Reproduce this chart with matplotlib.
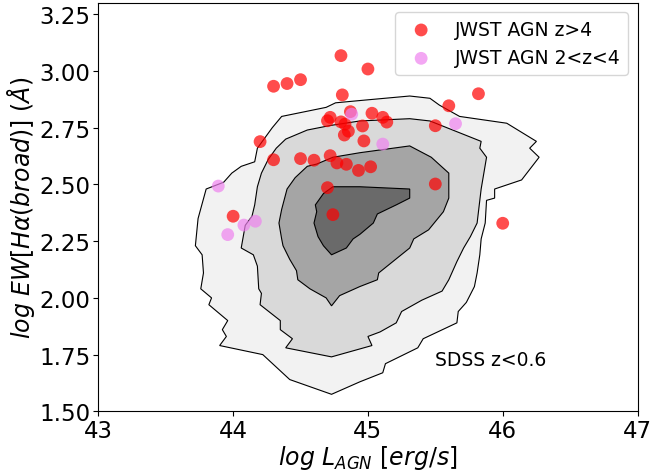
import matplotlib
matplotlib.use("Agg")
import matplotlib.pyplot as plt

# JWST AGN z>4
red_x = [44.80, 45.00, 44.30, 44.40, 44.50, 44.81, 45.82, 45.60, 45.50, 45.50,
         46.00, 44.87, 44.72, 44.70, 44.80, 44.83, 45.03, 45.11, 45.14, 44.96,
         44.855, 44.825, 44.97, 44.20, 44.30, 44.50, 44.60, 44.72, 44.77, 44.84,
         44.93, 45.02, 44.70, 44.74, 44.00]
red_y = [3.068, 3.009, 2.933, 2.945, 2.962, 2.895, 2.900, 2.847, 2.759, 2.502,
         2.329, 2.821, 2.796, 2.781, 2.776, 2.766, 2.814, 2.796, 2.775, 2.758,
         2.735, 2.718, 2.692, 2.689, 2.609, 2.614, 2.607, 2.627, 2.595, 2.589,
         2.562, 2.578, 2.486, 2.367, 2.360]

# JWST AGN 2<z<4
vio_x = [44.88, 45.65, 45.11, 43.89, 44.08, 44.165, 43.96]
vio_y = [2.810, 2.768, 2.678, 2.493, 2.321, 2.338, 2.279]

# SDSS z<0.6 density contours (outer -> inner)
c1_x = [43.72, 43.74, 43.80, 43.93, 43.99, 44.06, 44.16, 44.18, 44.29, 44.36,
        44.69, 44.76, 44.94, 45.31, 45.46, 45.53, 45.68, 46.03, 46.25, 46.20,
        46.27, 46.14, 45.94, 45.94, 45.88, 45.87, 45.84, 45.83, 45.81, 45.79,
        45.73, 45.67, 45.66, 45.41, 45.37, 45.13, 45.11, 44.94, 44.73, 44.42,
        44.22, 43.90, 43.95, 43.92, 43.96, 43.82, 43.84, 43.76, 43.78, 43.77]
c1_y = [2.23, 2.35, 2.48, 2.51, 2.55, 2.58, 2.60, 2.66, 2.75, 2.80,
        2.84, 2.86, 2.87, 2.89, 2.88, 2.85, 2.80, 2.77, 2.69, 2.66,
        2.62, 2.52, 2.48, 2.44, 2.43, 2.33, 2.26, 2.19, 2.11, 2.05,
        1.98, 1.94, 1.89, 1.82, 1.78, 1.71, 1.67, 1.63, 1.575, 1.64,
        1.75, 1.79, 1.83, 1.86, 1.90, 1.97, 2.00, 2.04, 2.11, 2.19]

c2_x = [44.06, 44.09, 44.14, 44.16, 44.18, 44.21, 44.26, 44.32, 44.39, 44.47,
        44.55, 44.72, 44.94, 45.31, 45.46, 45.84, 45.83, 45.88, 45.84, 45.81,
        45.76, 45.71, 45.66, 45.60, 45.55, 45.40, 45.25, 45.21, 45.09, 45.00,
        45.03, 44.73, 44.39, 44.44, 44.35, 44.35, 44.20, 44.21, 44.19, 44.18,
        44.15]
c2_y = [2.22, 2.32, 2.36, 2.41, 2.49, 2.55, 2.61, 2.66, 2.70, 2.72,
        2.74, 2.76, 2.78, 2.79, 2.78, 2.69, 2.66, 2.62, 2.48, 2.33,
        2.27, 2.22, 2.16, 2.08, 2.03, 1.99, 1.94, 1.89, 1.85, 1.83,
        1.79, 1.74, 1.78, 1.82, 1.86, 1.90, 1.97, 2.02, 2.04, 2.14,
        2.19]

c3_x = [44.36, 44.34, 44.36, 44.40, 44.46, 44.55, 44.62, 44.74, 44.94, 45.31,
        45.47, 45.60, 45.60, 45.56, 45.45, 45.34, 45.31, 45.08, 45.07, 44.94,
        44.79, 44.73, 44.69, 44.57, 44.48, 44.47, 44.42, 44.37]
c3_y = [2.26, 2.33, 2.39, 2.48, 2.53, 2.58, 2.59, 2.62, 2.64, 2.67,
        2.62, 2.55, 2.44, 2.38, 2.30, 2.26, 2.22, 2.11, 2.08, 2.05,
        2.01, 1.965, 2.00, 2.04, 2.08, 2.12, 2.17, 2.23]

c4_x = [44.74, 44.94, 45.31, 45.31, 45.21, 45.07, 45.04, 44.94, 44.89, 44.84,
        44.73, 44.67, 44.63, 44.60, 44.62, 44.61, 44.67]
c4_y = [2.49, 2.49, 2.48, 2.44, 2.41, 2.37, 2.33, 2.28, 2.26, 2.22,
        2.19, 2.23, 2.27, 2.33, 2.38, 2.41, 2.46]

contour_colors = ['#f2f2f2', '#d9d9d9', '#a5a5a5', '#6a6a6a']

fig = plt.figure(figsize=(6.52, 4.77), dpi=100)
ax = fig.add_axes([0.1508, 0.1356, 0.8270, 0.8560])

for (cx, cy), col in zip([(c1_x, c1_y), (c2_x, c2_y), (c3_x, c3_y), (c4_x, c4_y)],
                         contour_colors):
    ax.fill(cx, cy, facecolor=col, edgecolor='black', linewidth=0.8, zorder=1)

ax.scatter(red_x, red_y, s=85, color='red', alpha=0.7, edgecolors='none',
           label='JWST AGN z>4', zorder=3)
ax.scatter(vio_x, vio_y, s=85, color='violet', alpha=0.7, edgecolors='none',
           label='JWST AGN 2<z<4', zorder=3)

ax.text(45.5, 1.73, 'SDSS z<0.6', fontsize=13.5, va='center', ha='left')

ax.set_xlim(43, 47)
ax.set_ylim(1.5, 3.3)
ax.set_xticks([43, 44, 45, 46, 47])
ax.set_yticks([1.50, 1.75, 2.00, 2.25, 2.50, 2.75, 3.00, 3.25])
ax.tick_params(labelsize=16.5, pad=2)
ax.set_xlabel(r'$log\ L_{AGN}\ [erg/s]$', fontsize=17, labelpad=1)
ax.set_ylabel(r'$log\ EW[H\alpha(broad)]\ (\AA)$', fontsize=17, labelpad=2)

ax.legend(loc='upper right', fontsize=13.5)

fig.savefig('out.png', dpi=100)
